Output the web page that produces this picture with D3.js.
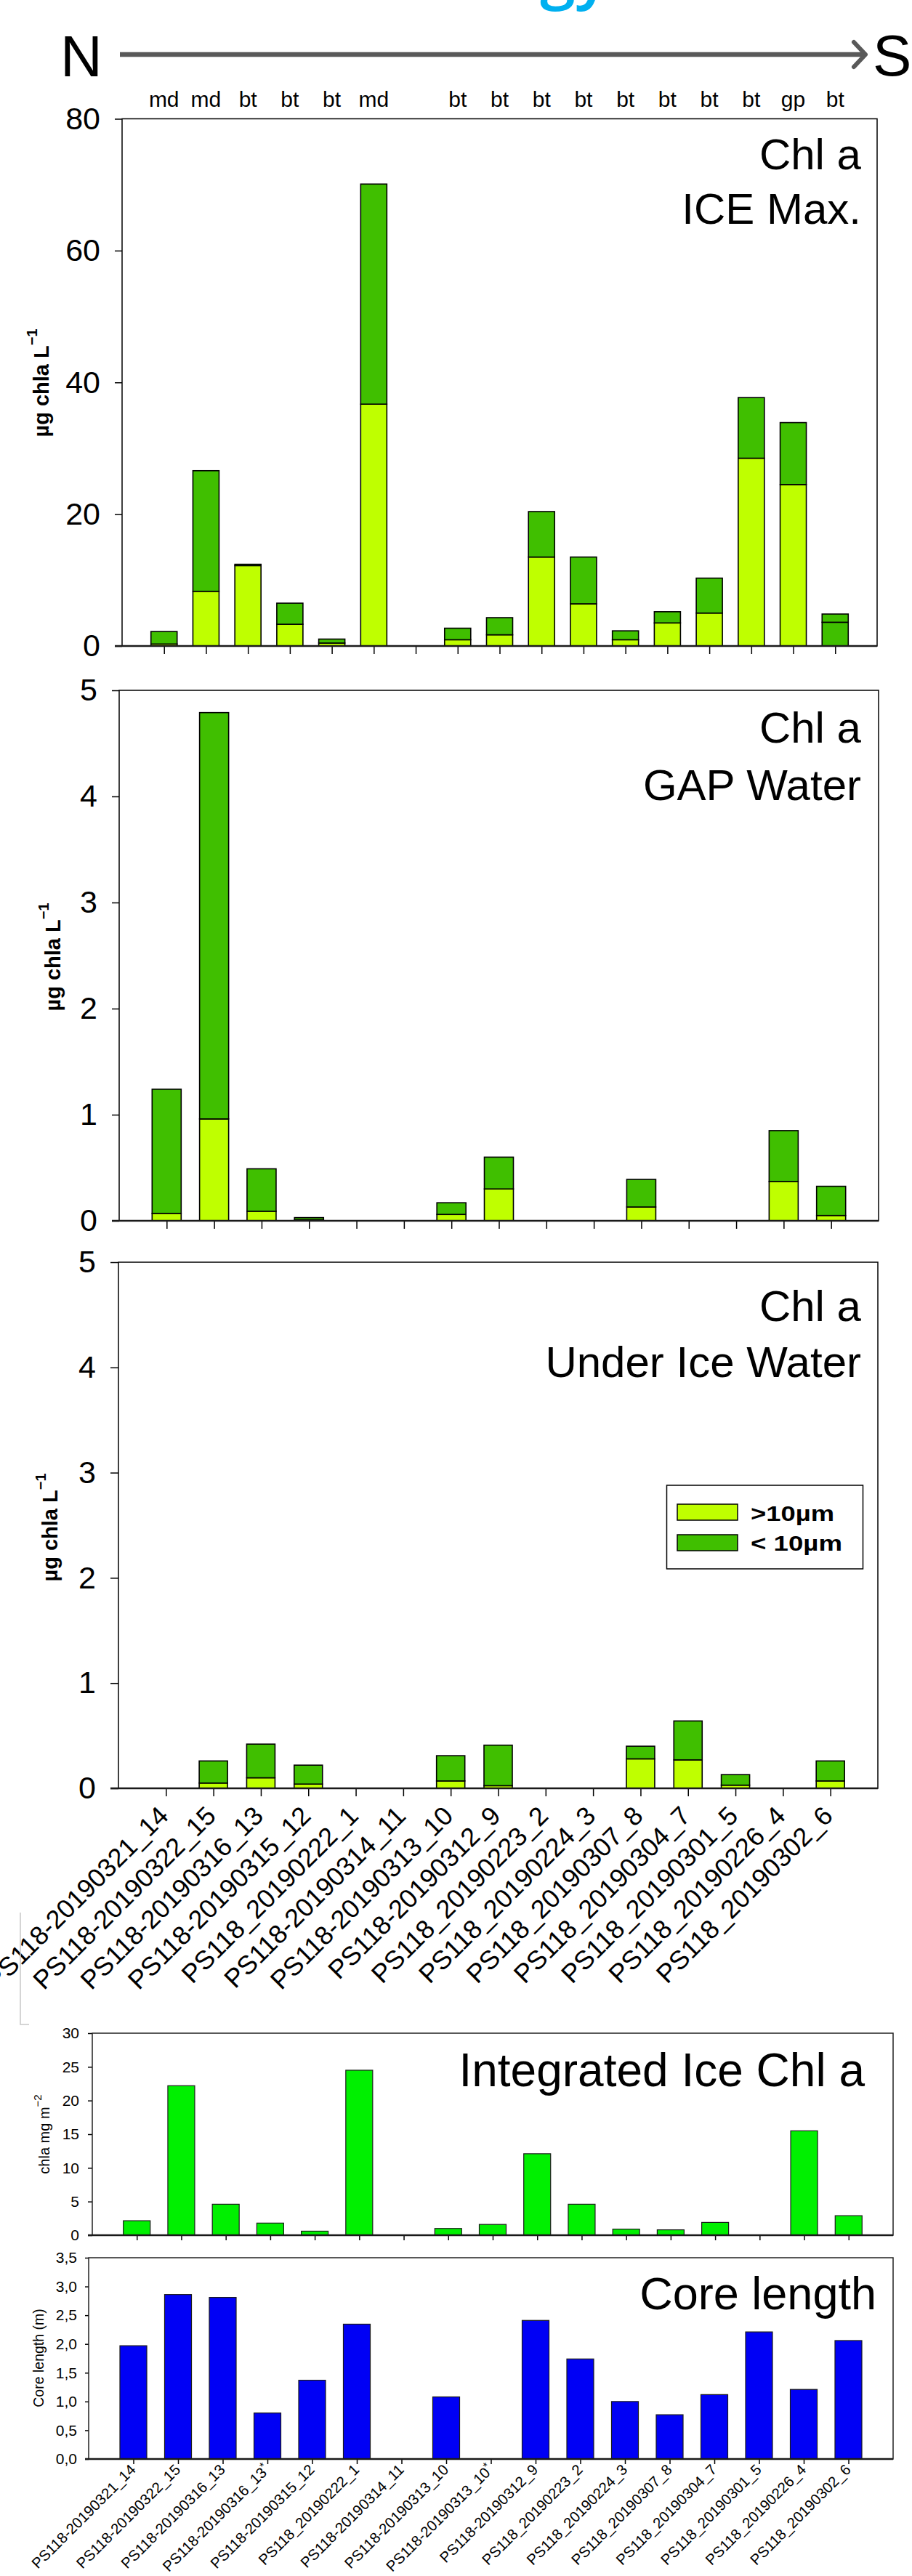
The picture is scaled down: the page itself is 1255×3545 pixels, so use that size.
<!DOCTYPE html>
<html>
<head>
<meta charset="utf-8">
<script src="https://cdn.jsdelivr.net/npm/d3@7/dist/d3.min.js"></script>
<style>
  html, body { margin: 0; padding: 0; background: #fff; overflow: hidden; }
  svg { display: block; }
</style>
</head>
<body>
<svg id="fig" width="1255" height="3545"></svg>
<script>
// ---------- station lists ----------
const stations17 = [
  "PS118-20190321_14", "PS118-20190322_15", "PS118-20190316_13", "PS118-20190316_13*",
  "PS118-20190315_12", "PS118_20190222_1", "PS118-20190314_11", "PS118-20190313_10",
  "PS118-20190313_10*", "PS118-20190312_9", "PS118_20190223_2", "PS118_20190224_3",
  "PS118_20190307_8", "PS118_20190304_7", "PS118_20190301_5", "PS118_20190226_4",
  "PS118_20190302_6"
];
const stations15 = [
  "PS118-20190321_14", "PS118-20190322_15", "PS118-20190316_13", "PS118-20190315_12",
  "PS118_20190222_1", "PS118-20190314_11", "PS118-20190313_10", "PS118-20190312_9",
  "PS118_20190223_2", "PS118_20190224_3", "PS118_20190307_8", "PS118_20190304_7",
  "PS118_20190301_5", "PS118_20190226_4", "PS118_20190302_6"
];

// dominant ice algae type per station (ICE Max samples)
const algaeType = ["md", "md", "bt", "bt", "bt", "md", null, "bt", "bt", "bt", "bt", "bt", "bt", "bt", "bt", "gp", "bt"];

const sizeFractions = [">10µm", "< 10µm"];

// ---------- Chl a, ICE Max (µg chla L-1) ----------
const iceMaxLarge = [0.3, 8.3, 12.2, 3.3, 0.45, 36.7, null, 0.95, 1.7, 13.5, 6.4, 0.95, 3.5, 5.0, 28.5, 24.5, 3.6];
const iceMaxSmall = [1.9, 18.3, 0.2, 3.2, 0.6, 33.4, null, 1.75, 2.6, 6.9, 7.1, 1.35, 1.7, 5.3, 9.2, 9.4, 1.25];
// size class of the lower segment of each ICE Max bar
const iceMaxLowerClass = [">10µm", ">10µm", ">10µm", ">10µm", ">10µm", ">10µm", null, ">10µm", ">10µm",
  ">10µm", ">10µm", ">10µm", ">10µm", ">10µm", ">10µm", ">10µm", "< 10µm"];

// ---------- Chl a, GAP water ----------
const gapLarge = [0.07, 0.96, 0.09, 0.01, null, null, 0.06, 0.30, null, null, 0.13, null, null, 0.37, 0.05];
const gapSmall = [1.17, 3.83, 0.40, 0.02, null, null, 0.11, 0.30, null, null, 0.26, null, null, 0.48, 0.275];

// ---------- Chl a, under-ice water ----------
const uiwLarge = [null, 0.05, 0.10, 0.04, null, null, 0.07, 0.025, null, null, 0.28, 0.27, 0.03, null, 0.07];
const uiwSmall = [null, 0.21, 0.32, 0.18, null, null, 0.24, 0.385, null, null, 0.12, 0.37, 0.10, null, 0.19];

// ---------- integrated ice chl a (mg m-2) and core length (m) ----------
const integratedChl = [2.15, 22.2, 4.6, 1.8, 0.6, 24.5, null, 1.0, 1.6, 12.1, 4.6, 0.9, 0.8, 1.9, null, 15.5, 2.9];
const coreLength = [1.97, 2.86, 2.81, 0.80, 1.37, 2.345, null, 1.08, null, 2.41, 1.74, 1.00, 0.77, 1.12, 2.21, 1.21, 2.06];

// ---------- tick values ----------
const ticksIceMax = [0, 20, 40, 60, 80];
const ticksWater = [0, 1, 2, 3, 4, 5];
const ticksIntegrated = [0, 5, 10, 15, 20, 25, 30];
const ticksCore = [0, 0.5, 1, 1.5, 2, 2.5, 3, 3.5];

// ---------- drawing ----------
const FONT = '"Liberation Sans", Arial, Helvetica, sans-serif';
const svg = d3.select("#fig").attr("font-family", FONT);
svg.append("rect").attr("width", 1255).attr("height", 3545).attr("fill", "#fff");

const fractionColor = d3.scaleOrdinal().domain(sizeFractions).range(["#bfff00", "#40bf00"]);

// heading fragment and the north-to-south arrow
svg.append("text")
  .attr("x", 743).attr("y", -5)
  .attr("font-family", '"Open Sans", "Noto Sans", sans-serif')
  .attr("font-weight", 600).attr("font-size", 88)
  .attr("fill", "#00b0f0")
  .text("gy");

svg.append("text").attr("x", 83).attr("y", 105).attr("font-size", 80).text("N");
svg.append("text").attr("x", 1201).attr("y", 104).attr("font-size", 80).text("S");
svg.append("line")
  .attr("x1", 165).attr("x2", 1187).attr("y1", 75).attr("y2", 75)
  .attr("stroke", "#595959").attr("stroke-width", 6.5);
svg.append("polyline")
  .attr("points", "1175,58 1191,75 1175,92")
  .attr("fill", "none").attr("stroke", "#595959").attr("stroke-width", 6)
  .attr("stroke-linecap", "round").attr("stroke-linejoin", "round");

function panel(box, cfg) {
  const x = d3.scalePoint().domain(cfg.cats).range([box.left, box.right]).padding(1);
  const y = d3.scaleLinear().domain([0, cfg.yMax]).range([box.bottom, box.top]);
  const g = svg.append("g");
  const bars = g.append("g");
  const axes = g.append("g");

  // y axis
  const ya = axes.append("g")
    .attr("transform", `translate(${box.left},0)`)
    .call(d3.axisLeft(y).tickValues(cfg.yTicks).tickSize(cfg.yTickLen).tickSizeOuter(0)
      .tickPadding(cfg.yPad).tickFormat(cfg.yFormat));
  ya.select(".domain").remove();
  ya.attr("font-family", FONT).attr("font-size", cfg.yFont);
  ya.selectAll("line").attr("stroke", "#000").attr("stroke-width", 1.5);
  ya.selectAll("text").attr("fill", "#000");

  // x axis
  const xa = axes.append("g")
    .attr("transform", `translate(0,${box.bottom})`)
    .call(d3.axisBottom(x).tickSize(cfg.xTickLen).tickSizeOuter(0)
      .tickFormat(cfg.xLabels ? d => d : () => ""));
  xa.select(".domain").remove();
  xa.attr("font-family", FONT).attr("font-size", cfg.xFont || 10);
  xa.selectAll("line").attr("stroke", "#000").attr("stroke-width", 1.5);
  if (cfg.xLabels) {
    const ox = cfg.xLabelOffset[0], oy = cfg.xLabelOffset[1];
    xa.selectAll("text")
      .attr("fill", "#000")
      .attr("x", ox).attr("y", oy).attr("dy", null)
      .attr("text-anchor", "end")
      .attr("transform", `rotate(-45,${ox},${oy})`)
      .each(function (d) {
        if (d.endsWith("*")) {
          const t = d3.select(this);
          t.text(d.slice(0, -1));
          t.append("tspan").attr("font-size", cfg.xFont * 0.75).attr("dy", -cfg.xFont * 0.35).text("*");
        }
      });
  }

  // frame
  axes.append("rect")
    .attr("x", box.left).attr("y", box.top)
    .attr("width", box.right - box.left).attr("height", box.bottom - box.top)
    .attr("fill", "none").attr("stroke", cfg.frameColor || "#000").attr("stroke-width", 1.5);
  axes.append("line")
    .attr("x1", box.left - cfg.yTickLen).attr("x2", box.right)
    .attr("y1", box.bottom).attr("y2", box.bottom)
    .attr("stroke", "#1a1a1a").attr("stroke-width", 2.5);

  return { x, y, bars, g };
}

function stacked(p, cats, large, small, lowerClass, bw) {
  const rows = cats.map((c, i) => ({
    c, lo: large[i], hi: small[i],
    cls: lowerClass ? lowerClass[i] : sizeFractions[0]
  })).filter(r => r.lo != null);
  p.bars.selectAll("rect.lo").data(rows).join("rect")
    .attr("class", "lo")
    .attr("x", r => p.x(r.c) - bw / 2).attr("width", bw)
    .attr("y", r => p.y(r.lo)).attr("height", r => p.y(0) - p.y(r.lo))
    .attr("fill", r => fractionColor(r.cls))
    .attr("stroke", "#000").attr("stroke-width", 1.6);
  p.bars.selectAll("rect.hi").data(rows).join("rect")
    .attr("class", "hi")
    .attr("x", r => p.x(r.c) - bw / 2).attr("width", bw)
    .attr("y", r => p.y(r.lo + r.hi)).attr("height", r => p.y(r.lo) - p.y(r.lo + r.hi))
    .attr("fill", fractionColor(sizeFractions[1]))
    .attr("stroke", "#000").attr("stroke-width", 1.6);
}

function simple(p, cats, values, bw, color) {
  const rows = cats.map((c, i) => ({ c, v: values[i] })).filter(r => r.v != null);
  p.bars.selectAll("rect").data(rows).join("rect")
    .attr("x", r => p.x(r.c) - bw / 2).attr("width", bw)
    .attr("y", r => p.y(r.v)).attr("height", r => p.y(0) - p.y(r.v))
    .attr("fill", color)
    .attr("stroke", "#1a1a1a").attr("stroke-width", 1.2);
}

function titles(lines, xEnd, baselines, size) {
  lines.forEach((t, i) => {
    svg.append("text").attr("x", xEnd).attr("y", baselines[i])
      .attr("text-anchor", "end").attr("font-size", size).text(t);
  });
}

function yLabel(xBase, yMid, size, weight, main, sup, supSize, supRise, spacing) {
  const t = svg.append("text")
    .attr("transform", `translate(${xBase},${yMid}) rotate(-90)`)
    .attr("text-anchor", "middle").attr("font-size", size).attr("font-weight", weight);
  if (spacing) t.attr("letter-spacing", spacing);
  t.append("tspan").text(main);
  if (sup) t.append("tspan").attr("font-size", supSize).attr("dy", -supRise).text(sup);
}

const fmtInt = d3.format("d");
const fmtComma = d => d3.format(".1f")(d).replace(".", ",");

// --- panel 1: ICE Max ---
const p1 = panel({ left: 168, right: 1207, top: 163.5, bottom: 889 }, {
  cats: stations17, yMax: 80, yTicks: ticksIceMax, yFormat: fmtInt,
  yTickLen: 10, yPad: 20, yFont: 43, xTickLen: 11
});
stacked(p1, stations17, iceMaxLarge, iceMaxSmall, iceMaxLowerClass, 36);
svg.append("g").selectAll("text")
  .data(stations17.map((c, i) => ({ c, t: algaeType[i] })).filter(d => d.t))
  .join("text")
  .attr("x", d => p1.x(d.c)).attr("y", 147)
  .attr("text-anchor", "middle").attr("font-size", 30)
  .text(d => d.t);
titles(["Chl a", "ICE Max."], 1185, [233, 308], 60);
yLabel(67, 527, 29, "bold", "µg chla L", "−1", 20, 16);

// --- panel 2: GAP water ---
const p2 = panel({ left: 164, right: 1209, top: 950, bottom: 1680 }, {
  cats: stations15, yMax: 5, yTicks: ticksWater, yFormat: fmtInt,
  yTickLen: 10, yPad: 20, yFont: 43, xTickLen: 11
});
stacked(p2, stations15, gapLarge, gapSmall, null, 40);
titles(["Chl a", "GAP Water"], 1185, [1022, 1101], 60);
yLabel(83, 1317, 29, "bold", "µg chla L", "−1", 20, 16);

// --- panel 3: under-ice water ---
const p3 = panel({ left: 163, right: 1208, top: 1737, bottom: 2461 }, {
  cats: stations15, yMax: 5, yTicks: ticksWater, yFormat: fmtInt,
  yTickLen: 11, yPad: 20, yFont: 43, xTickLen: 11,
  xLabels: true, xFont: 36, xLabelOffset: [5, 40]
});
stacked(p3, stations15, uiwLarge, uiwSmall, null, 39);
titles(["Chl a", "Under Ice Water"], 1185, [1818, 1895], 60);
yLabel(79, 2102, 29, "bold", "µg chla L", "−1", 20, 16);

// legend
const lg = svg.append("g");
lg.append("rect").attr("x", 917.5).attr("y", 2044).attr("width", 270).attr("height", 115)
  .attr("fill", "#fff").attr("stroke", "#000").attr("stroke-width", 1.5);
lg.selectAll("rect.sw").data(sizeFractions).join("rect")
  .attr("class", "sw")
  .attr("x", 932).attr("y", (d, i) => 2070 + i * 42)
  .attr("width", 83).attr("height", 22)
  .attr("fill", d => fractionColor(d)).attr("stroke", "#000").attr("stroke-width", 1.5);
lg.selectAll("text").data(sizeFractions).join("text")
  .attr("x", 1033).attr("y", (d, i) => 2093 + i * 41)
  .attr("font-size", 30).attr("font-weight", "bold")
  .attr("textLength", (d, i) => [115, 126][i]).attr("lengthAdjust", "spacingAndGlyphs")
  .text(d => d);

// faint bracket at the left margin
svg.append("path").attr("d", "M28,2632 V2786 H40")
  .attr("fill", "none").attr("stroke", "#c8c8c8").attr("stroke-width", 1.5);

// --- panel 4: integrated ice chl a ---
const p4 = panel({ left: 127, right: 1229, top: 2798, bottom: 3076 }, {
  cats: stations17, yMax: 30, yTicks: ticksIntegrated, yFormat: fmtInt,
  yTickLen: 6, yPad: 12, yFont: 21, xTickLen: 7, frameColor: "#222"
});
simple(p4, stations17, integratedChl, 37, "#00f000");
titles(["Integrated Ice Chl a"], 1190, [2871], 64);
yLabel(68, 2937, 20, "normal", "chla mg m", "−2", 15, 11);

// --- panel 5: core length ---
const p5 = panel({ left: 122, right: 1229, top: 3107, bottom: 3384 }, {
  cats: stations17, yMax: 3.5, yTicks: ticksCore, yFormat: fmtComma,
  yTickLen: 5, yPad: 11, yFont: 21, xTickLen: 7, frameColor: "#222",
  xLabels: true, xFont: 20.5, xLabelOffset: [4, 16]
});
simple(p5, stations17, coreLength, 37, "#0000f5");
titles(["Core length"], 1206, [3178], 63);
yLabel(60, 3245, 19.5, "normal", "Core length (m)", null);
</script>
</body>
</html>
